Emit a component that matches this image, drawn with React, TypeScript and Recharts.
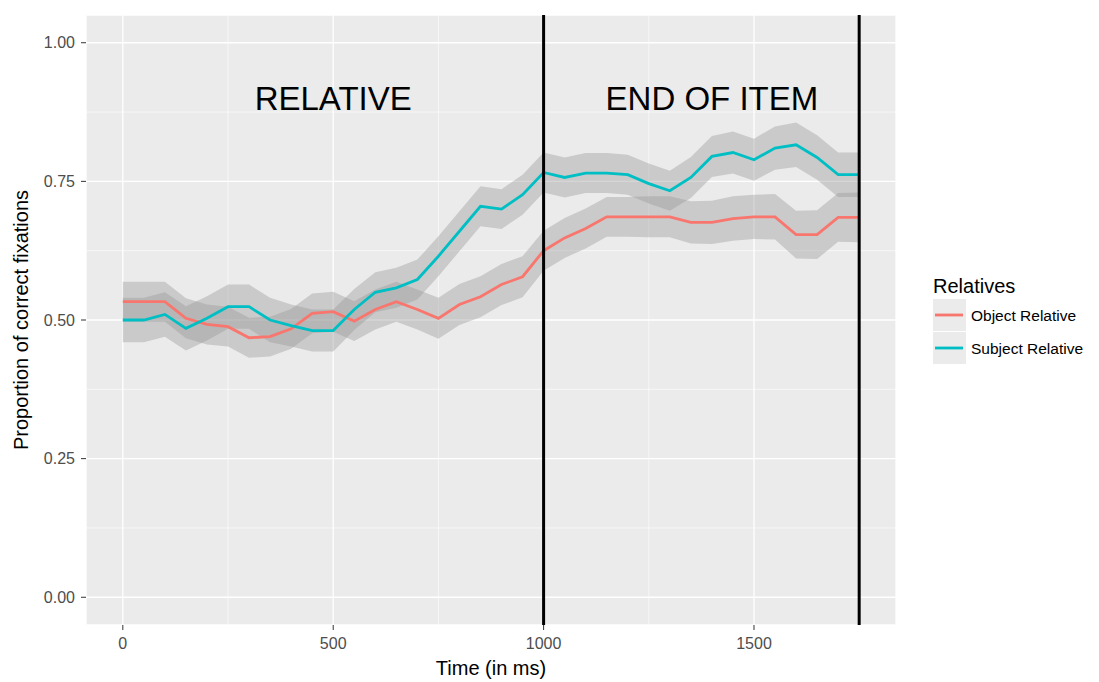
import React from "react";
import {
  ComposedChart,
  Line,
  Area,
  Scatter,
  XAxis,
  YAxis,
  CartesianGrid,
  ReferenceLine,
} from "recharts";

const times = [
  0, 50, 100, 150, 200, 250, 300, 350, 400, 450, 500, 550, 600, 650, 700, 750,
  800, 850, 900, 950, 1000, 1050, 1100, 1150, 1200, 1250, 1300, 1350, 1400,
  1450, 1500, 1550, 1600, 1650, 1700, 1750,
];

const objectRel = [
  0.533, 0.533, 0.533, 0.503, 0.492, 0.488, 0.468, 0.47, 0.484, 0.512, 0.515,
  0.498, 0.519, 0.533, 0.519, 0.503, 0.528, 0.542, 0.564, 0.578, 0.625, 0.648,
  0.665, 0.686, 0.686, 0.686, 0.686, 0.676, 0.676, 0.683, 0.686, 0.686, 0.654,
  0.654, 0.685, 0.685,
];

const objectCi = [
  0.036, 0.036, 0.036, 0.036, 0.036, 0.036, 0.036, 0.036, 0.036, 0.036, 0.036,
  0.036, 0.036, 0.036, 0.036, 0.037, 0.037, 0.037, 0.037, 0.037, 0.036, 0.036,
  0.036, 0.036, 0.036, 0.037, 0.037, 0.038, 0.039, 0.04, 0.04, 0.041, 0.043,
  0.044, 0.044, 0.045,
];

const subjectRel = [
  0.5, 0.5, 0.51, 0.485, 0.503, 0.524, 0.524, 0.5, 0.49, 0.481, 0.481, 0.519,
  0.55, 0.558, 0.573, 0.615, 0.66, 0.705, 0.7, 0.726, 0.766, 0.757, 0.765,
  0.765, 0.762, 0.746, 0.733, 0.757, 0.795, 0.802, 0.789, 0.81, 0.816, 0.793,
  0.762, 0.762,
];

const subjectCi = [
  0.04, 0.04, 0.04, 0.04, 0.04, 0.04, 0.04, 0.04, 0.038, 0.038, 0.038, 0.037,
  0.036, 0.036, 0.036, 0.036, 0.036, 0.036, 0.036, 0.036, 0.036, 0.036, 0.036,
  0.036, 0.036, 0.036, 0.036, 0.037, 0.037, 0.038, 0.038, 0.039, 0.04, 0.04,
  0.04, 0.04,
];

const xTicks = [0, 500, 1000, 1500];
const xMinor = [250, 750, 1250, 1750];
const yTicks = [0, 0.25, 0.5, 0.75, 1.0];
const yMinor = [0.125, 0.375, 0.625, 0.875];
const markers = [1000, 1750];

const annotations = [
  { t: 500, v: 0.9, label: "RELATIVE" },
  { t: 1400, v: 0.9, label: "END OF ITEM" },
];

const seriesNames = ["Object Relative", "Subject Relative"];
const seriesColors = ["#F8766D", "#00BFC4"];

const data = times.map((t, i) => ({
  t,
  obj: objectRel[i],
  sub: subjectRel[i],
  objBand: [objectRel[i] - objectCi[i], objectRel[i] + objectCi[i]],
  subBand: [subjectRel[i] - subjectCi[i], subjectRel[i] + subjectCi[i]],
}));

const FONT = "'Liberation Sans', Arial, sans-serif";

const AnnotationShape = (props: any) => {
  const { cx, cy, payload } = props;
  return (
    <text
      x={cx}
      y={cy}
      textAnchor="middle"
      dominantBaseline="central"
      fontSize={33}
      fontFamily={FONT}
      fill="#000"
    >
      {payload.label}
    </text>
  );
};

const YTitle = (props: any) => {
  const vb = props.viewBox || {};
  const x = vb.x + 13;
  const y = vb.y + vb.height / 2;
  return (
    <text
      x={x}
      y={y}
      transform={`rotate(-90 ${x} ${y})`}
      textAnchor="middle"
      dominantBaseline="central"
      fontSize={20}
      fontFamily={FONT}
      fill="#000"
    >
      Proportion of correct fixations
    </text>
  );
};

export default function App() {
  return (
    <div style={{ position: "relative", width: 1091, height: 674, fontFamily: FONT }}>
      <ComposedChart
        width={1091}
        height={674}
        data={data}
        margin={{ top: 7, right: 203, bottom: 7, left: 0 }}
      >
        <CartesianGrid
          fill="#EBEBEB"
          fillOpacity={1}
          stroke="#FFFFFF"
          strokeWidth={0.6}
          horizontalValues={yMinor}
          verticalValues={xMinor}
        />
        <CartesianGrid stroke="#FFFFFF" strokeWidth={1.3} />
        <XAxis
          dataKey="t"
          type="number"
          domain={[-87.5, 1837.5]}
          ticks={xTicks}
          allowDataOverflow
          axisLine={false}
          tickLine={{ stroke: "#333333", strokeWidth: 1 }}
          tickSize={5}
          tickMargin={8}
          height={50}
          tick={{ fill: "#4D4D4D", fontSize: 16, fontFamily: FONT }}
          label={{
            value: "Time (in ms)",
            position: "insideBottom",
            offset: 0,
            fontSize: 20,
            fontFamily: FONT,
            fill: "#000",
          }}
        />
        <YAxis
          type="number"
          domain={[-0.05, 1.05]}
          ticks={yTicks}
          allowDataOverflow
          width={78}
          axisLine={false}
          tickLine={{ stroke: "#333333", strokeWidth: 1 }}
          tickSize={5}
          tickMargin={6}
          tickFormatter={(v: number) => v.toFixed(2)}
          tick={{ fill: "#4D4D4D", fontSize: 16, fontFamily: FONT }}
          label={<YTitle />}
        />
        <Area
          dataKey="objBand"
          type="linear"
          stroke="none"
          fill="#999999"
          fillOpacity={0.4}
          isAnimationActive={false}
          activeDot={false}
        />
        <Area
          dataKey="subBand"
          type="linear"
          stroke="none"
          fill="#999999"
          fillOpacity={0.4}
          isAnimationActive={false}
          activeDot={false}
        />
        <Line
          dataKey="obj"
          type="linear"
          stroke={seriesColors[0]}
          strokeWidth={2.8}
          dot={false}
          activeDot={false}
          isAnimationActive={false}
        />
        <Line
          dataKey="sub"
          type="linear"
          stroke={seriesColors[1]}
          strokeWidth={2.8}
          dot={false}
          activeDot={false}
          isAnimationActive={false}
        />
        {markers.map((m) => (
          <ReferenceLine key={m} x={m} stroke="#000000" strokeWidth={3} />
        ))}
        <Scatter
          data={annotations}
          dataKey="v"
          shape={<AnnotationShape />}
          isAnimationActive={false}
        />
      </ComposedChart>
      <div
        style={{
          position: "absolute",
          left: 925,
          top: 266,
          width: 166,
          color: "#000",
        }}
      >
        <div style={{ fontSize: 20, lineHeight: "24px", height: 24 }}>Relatives</div>
        <div style={{ marginTop: 1 }}>
          {seriesNames.map((n, i) => (
            <div
              key={n}
              style={{ display: "flex", alignItems: "center", height: 33 }}
            >
              <div
                style={{
                  width: 33,
                  height: 32,
                  background: "#EBEBEB",
                  position: "relative",
                  marginBottom: 1,
                  flex: "none",
                }}
              >
                <svg width={33} height={32} style={{ display: "block" }}>
                  <line
                    x1={2}
                    x2={30}
                    y1={16}
                    y2={16}
                    stroke={seriesColors[i]}
                    strokeWidth={2.8}
                  />
                </svg>
              </div>
              <span style={{ fontSize: 15.5, marginLeft: 5, whiteSpace: "nowrap" }}>{n}</span>
            </div>
          ))}
        </div>
      </div>
    </div>
  );
}
